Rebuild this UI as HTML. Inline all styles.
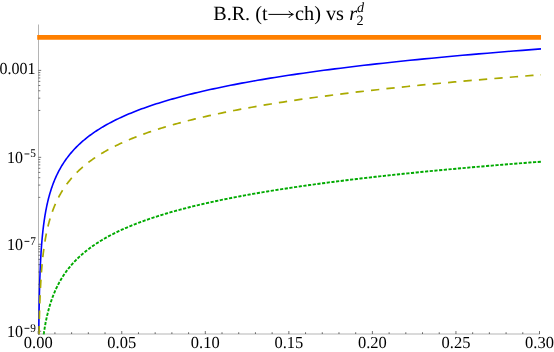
<!DOCTYPE html><html><head><meta charset="utf-8"><title>plot</title><style>html,body{margin:0;padding:0;background:#fff}svg{display:block;will-change:transform}text{font-family:"Liberation Serif",serif;fill:#000;text-rendering:geometricPrecision}</style></head><body>
<svg width="554" height="352" viewBox="0 0 554 352">
<rect width="554" height="352" fill="#fff"/>
<g stroke="#000" stroke-width="0.3" fill="none"><line x1="38.5" y1="24.5" x2="38.5" y2="334.15"/><line x1="38.35" y1="334.0" x2="539.9" y2="334.0"/></g>
<g stroke="#000" stroke-width="0.55" fill="none"><line x1="38.20" y1="334.0" x2="38.20" y2="331.00"/><line x1="54.91" y1="334.0" x2="54.91" y2="332.20"/><line x1="71.62" y1="334.0" x2="71.62" y2="332.20"/><line x1="88.33" y1="334.0" x2="88.33" y2="332.20"/><line x1="105.04" y1="334.0" x2="105.04" y2="332.20"/><line x1="121.75" y1="334.0" x2="121.75" y2="331.00"/><line x1="138.46" y1="334.0" x2="138.46" y2="332.20"/><line x1="155.17" y1="334.0" x2="155.17" y2="332.20"/><line x1="171.88" y1="334.0" x2="171.88" y2="332.20"/><line x1="188.59" y1="334.0" x2="188.59" y2="332.20"/><line x1="205.30" y1="334.0" x2="205.30" y2="331.00"/><line x1="222.01" y1="334.0" x2="222.01" y2="332.20"/><line x1="238.72" y1="334.0" x2="238.72" y2="332.20"/><line x1="255.43" y1="334.0" x2="255.43" y2="332.20"/><line x1="272.14" y1="334.0" x2="272.14" y2="332.20"/><line x1="288.85" y1="334.0" x2="288.85" y2="331.00"/><line x1="305.56" y1="334.0" x2="305.56" y2="332.20"/><line x1="322.27" y1="334.0" x2="322.27" y2="332.20"/><line x1="338.98" y1="334.0" x2="338.98" y2="332.20"/><line x1="355.69" y1="334.0" x2="355.69" y2="332.20"/><line x1="372.40" y1="334.0" x2="372.40" y2="331.00"/><line x1="389.11" y1="334.0" x2="389.11" y2="332.20"/><line x1="405.82" y1="334.0" x2="405.82" y2="332.20"/><line x1="422.53" y1="334.0" x2="422.53" y2="332.20"/><line x1="439.24" y1="334.0" x2="439.24" y2="332.20"/><line x1="455.95" y1="334.0" x2="455.95" y2="331.00"/><line x1="472.66" y1="334.0" x2="472.66" y2="332.20"/><line x1="489.37" y1="334.0" x2="489.37" y2="332.20"/><line x1="506.08" y1="334.0" x2="506.08" y2="332.20"/><line x1="522.79" y1="334.0" x2="522.79" y2="332.20"/><line x1="539.50" y1="334.0" x2="539.50" y2="331.00"/><line x1="38.5" y1="70.40" x2="41.2" y2="70.40"/><line x1="38.5" y1="110.43" x2="40.3" y2="110.43"/><line x1="38.5" y1="98.15" x2="40.3" y2="98.15"/><line x1="38.5" y1="90.77" x2="40.3" y2="90.77"/><line x1="38.5" y1="85.47" x2="40.3" y2="85.47"/><line x1="38.5" y1="81.35" x2="40.3" y2="81.35"/><line x1="38.5" y1="77.96" x2="40.3" y2="77.96"/><line x1="38.5" y1="75.09" x2="40.3" y2="75.09"/><line x1="38.5" y1="72.60" x2="40.3" y2="72.60"/><line x1="38.5" y1="157.34" x2="41.2" y2="157.34"/><line x1="38.5" y1="197.37" x2="40.3" y2="197.37"/><line x1="38.5" y1="185.09" x2="40.3" y2="185.09"/><line x1="38.5" y1="177.71" x2="40.3" y2="177.71"/><line x1="38.5" y1="172.41" x2="40.3" y2="172.41"/><line x1="38.5" y1="168.29" x2="40.3" y2="168.29"/><line x1="38.5" y1="164.90" x2="40.3" y2="164.90"/><line x1="38.5" y1="162.03" x2="40.3" y2="162.03"/><line x1="38.5" y1="159.54" x2="40.3" y2="159.54"/><line x1="38.5" y1="244.28" x2="41.2" y2="244.28"/><line x1="38.5" y1="284.31" x2="40.3" y2="284.31"/><line x1="38.5" y1="272.03" x2="40.3" y2="272.03"/><line x1="38.5" y1="264.65" x2="40.3" y2="264.65"/><line x1="38.5" y1="259.35" x2="40.3" y2="259.35"/><line x1="38.5" y1="255.23" x2="40.3" y2="255.23"/><line x1="38.5" y1="251.84" x2="40.3" y2="251.84"/><line x1="38.5" y1="248.97" x2="40.3" y2="248.97"/><line x1="38.5" y1="246.48" x2="40.3" y2="246.48"/><line x1="38.5" y1="331.22" x2="41.2" y2="331.22"/></g>
<path d="M38.76 334.40 L38.77 333.69 L38.78 332.97 L38.78 332.26 L38.79 331.54 L38.80 330.83 L38.81 330.12 L38.82 329.40 L38.82 328.69 L38.83 327.98 L38.84 327.26 L38.85 326.55 L38.86 325.83 L38.87 325.12 L38.87 324.41 L38.88 323.69 L38.89 322.98 L38.90 322.27 L38.91 321.55 L38.92 320.84 L38.93 320.12 L38.94 319.41 L38.95 318.70 L38.96 317.98 L38.97 317.27 L38.98 316.56 L38.99 315.84 L39.00 315.13 L39.01 314.42 L39.02 313.70 L39.03 312.99 L39.05 312.27 L39.06 311.56 L39.07 310.85 L39.08 310.13 L39.09 309.42 L39.11 308.70 L39.12 307.99 L39.13 307.28 L39.14 306.56 L39.16 305.85 L39.17 305.14 L39.18 304.42 L39.20 303.71 L39.21 303.00 L39.22 302.28 L39.24 301.57 L39.25 300.85 L39.27 300.14 L39.28 299.43 L39.30 298.71 L39.31 298.00 L39.33 297.28 L39.34 296.57 L39.36 295.86 L39.38 295.14 L39.39 294.43 L39.41 293.72 L39.43 293.00 L39.44 292.29 L39.46 291.57 L39.48 290.86 L39.50 290.15 L39.52 289.43 L39.53 288.72 L39.55 288.01 L39.57 287.29 L39.59 286.58 L39.61 285.87 L39.63 285.15 L39.65 284.44 L39.68 283.72 L39.70 283.01 L39.72 282.30 L39.74 281.58 L39.76 280.87 L39.79 280.15 L39.81 279.44 L39.83 278.73 L39.86 278.01 L39.88 277.30 L39.91 276.59 L39.93 275.87 L39.96 275.16 L39.99 274.44 L40.01 273.73 L40.04 273.02 L40.07 272.30 L40.10 271.59 L40.13 270.88 L40.15 270.16 L40.18 269.45 L40.21 268.74 L40.25 268.02 L40.28 267.31 L40.31 266.59 L40.34 265.88 L40.37 265.17 L40.41 264.45 L40.44 263.74 L40.48 263.03 L40.51 262.31 L40.55 261.60 L40.59 260.88 L40.62 260.17 L40.66 259.46 L40.70 258.74 L40.74 258.03 L40.78 257.31 L40.82 256.60 L40.86 255.89 L40.90 255.17 L40.95 254.46 L40.99 253.75 L41.04 253.03 L41.08 252.32 L41.13 251.61 L41.17 250.89 L41.22 250.18 L41.27 249.46 L41.32 248.75 L41.37 248.04 L41.42 247.32 L41.48 246.61 L41.53 245.89 L41.58 245.18 L41.64 244.47 L41.70 243.75 L41.75 243.04 L41.81 242.33 L41.87 241.61 L41.93 240.90 L41.99 240.19 L42.06 239.47 L42.12 238.76 L42.18 238.04 L42.25 237.33 L42.32 236.62 L42.39 235.90 L42.46 235.19 L42.53 234.48 L42.60 233.76 L42.68 233.05 L42.75 232.33 L42.83 231.62 L42.91 230.91 L42.99 230.19 L43.07 229.48 L43.15 228.77 L43.23 228.05 L43.32 227.34 L43.41 226.62 L43.50 225.91 L43.59 225.20 L43.68 224.48 L43.77 223.77 L43.87 223.06 L43.97 222.34 L44.07 221.63 L44.17 220.91 L44.27 220.20 L44.37 219.49 L44.48 218.77 L44.59 218.06 L44.70 217.34 L44.81 216.63 L44.93 215.92 L45.05 215.20 L45.17 214.49 L45.29 213.78 L45.41 213.06 L45.54 212.35 L45.67 211.64 L45.80 210.92 L45.93 210.21 L46.07 209.49 L46.21 208.78 L46.35 208.07 L46.49 207.35 L46.64 206.64 L46.79 205.93 L46.94 205.21 L47.09 204.50 L47.25 203.78 L47.41 203.07 L47.58 202.36 L47.74 201.64 L47.91 200.93 L48.09 200.22 L48.26 199.50 L48.44 198.79 L48.63 198.07 L48.81 197.36 L49.00 196.65 L49.20 195.93 L49.39 195.22 L49.59 194.51 L49.80 193.79 L50.01 193.08 L50.22 192.36 L50.44 191.65 L50.66 190.94 L50.88 190.22 L51.11 189.51 L51.35 188.80 L51.58 188.08 L51.83 187.37 L52.07 186.65 L52.32 185.94 L52.58 185.23 L52.84 184.51 L53.11 183.80 L53.38 183.09 L53.66 182.37 L53.94 181.66 L54.22 180.94 L54.52 180.23 L54.81 179.52 L55.12 178.80 L55.43 178.09 L55.74 177.38 L56.06 176.66 L56.39 175.95 L56.72 175.23 L57.06 174.52 L57.41 173.81 L57.76 173.09 L58.12 172.38 L58.49 171.67 L58.86 170.95 L59.24 170.24 L59.63 169.52 L60.02 168.81 L60.43 168.10 L60.84 167.38 L61.25 166.67 L61.68 165.96 L62.11 165.24 L62.55 164.53 L63.00 163.81 L63.46 163.10 L63.93 162.39 L64.41 161.67 L64.89 160.96 L65.39 160.25 L65.89 159.53 L66.40 158.82 L66.93 158.10 L67.46 157.39 L68.00 156.68 L68.56 155.96 L69.12 155.25 L69.70 154.53 L70.28 153.82 L70.88 153.11 L71.49 152.39 L72.11 151.68 L72.74 150.97 L73.38 150.25 L74.04 149.54 L74.71 148.82 L75.39 148.11 L76.08 147.40 L76.79 146.68 L77.51 145.97 L78.24 145.26 L78.99 144.54 L79.75 143.83 L80.53 143.11 L81.32 142.40 L82.13 141.69 L82.95 140.97 L83.79 140.26 L84.64 139.55 L85.51 138.83 L86.40 138.12 L87.30 137.41 L88.22 136.69 L89.16 135.98 L90.12 135.26 L91.09 134.55 L92.09 133.84 L93.10 133.12 L94.13 132.41 L95.18 131.70 L96.25 130.98 L97.34 130.27 L98.45 129.55 L99.59 128.84 L100.74 128.13 L101.92 127.41 L103.11 126.70 L104.34 125.99 L105.58 125.27 L106.85 124.56 L108.14 123.84 L109.46 123.13 L110.80 122.42 L112.17 121.70 L113.57 120.99 L114.99 120.28 L116.43 119.56 L117.91 118.85 L119.41 118.13 L120.94 117.42 L122.51 116.71 L124.10 115.99 L125.72 115.28 L127.37 114.56 L129.05 113.85 L130.77 113.14 L132.52 112.42 L134.30 111.71 L136.12 111.00 L137.97 110.28 L139.85 109.57 L141.77 108.85 L143.73 108.14 L145.73 107.43 L147.76 106.71 L149.83 106.00 L151.95 105.29 L154.10 104.57 L156.29 103.86 L158.53 103.14 L160.80 102.43 L163.12 101.72 L165.49 101.00 L167.90 100.29 L170.36 99.58 L172.86 98.86 L175.41 98.15 L178.01 97.44 L180.66 96.72 L183.36 96.01 L186.11 95.29 L188.91 94.58 L191.77 93.87 L194.68 93.15 L197.65 92.44 L200.67 91.73 L203.75 91.01 L206.89 90.30 L210.09 89.58 L213.35 88.87 L216.67 88.16 L220.06 87.44 L223.51 86.73 L227.03 86.01 L230.61 85.30 L234.26 84.59 L237.99 83.87 L241.78 83.16 L245.64 82.45 L249.58 81.73 L253.60 81.02 L257.69 80.31 L261.85 79.59 L266.10 78.88 L270.43 78.16 L274.84 77.45 L279.34 76.74 L283.92 76.02 L288.59 75.31 L293.34 74.59 L298.19 73.88 L303.13 73.17 L308.17 72.45 L313.30 71.74 L318.53 71.03 L323.86 70.31 L329.29 69.60 L334.82 68.88 L340.46 68.17 L346.21 67.46 L352.07 66.74 L358.03 66.03 L364.12 65.32 L370.32 64.60 L376.63 63.89 L383.07 63.18 L389.63 62.46 L396.31 61.75 L403.13 61.03 L410.07 60.32 L417.14 59.61 L424.35 58.89 L431.70 58.18 L439.19 57.47 L446.82 56.75 L454.60 56.04 L462.52 55.32 L470.60 54.61 L478.82 53.90 L487.21 53.18 L495.76 52.47 L504.47 51.75 L513.34 51.04 L522.39 50.33 L531.61 49.61 L541.00 48.90" stroke="#0000ff" stroke-width="1.6" fill="none" stroke-linejoin="round"/>
<path d="M39.02 334.40 L39.03 333.75 L39.04 333.10 L39.05 332.45 L39.06 331.80 L39.08 331.15 L39.09 330.51 L39.10 329.86 L39.11 329.21 L39.13 328.56 L39.14 327.91 L39.15 327.26 L39.17 326.61 L39.18 325.96 L39.19 325.31 L39.21 324.66 L39.22 324.02 L39.24 323.37 L39.25 322.72 L39.27 322.07 L39.28 321.42 L39.30 320.77 L39.31 320.12 L39.33 319.47 L39.34 318.82 L39.36 318.17 L39.37 317.53 L39.39 316.88 L39.41 316.23 L39.43 315.58 L39.44 314.93 L39.46 314.28 L39.48 313.63 L39.50 312.98 L39.51 312.33 L39.53 311.68 L39.55 311.04 L39.57 310.39 L39.59 309.74 L39.61 309.09 L39.63 308.44 L39.65 307.79 L39.67 307.14 L39.69 306.49 L39.71 305.84 L39.74 305.19 L39.76 304.55 L39.78 303.90 L39.80 303.25 L39.82 302.60 L39.85 301.95 L39.87 301.30 L39.90 300.65 L39.92 300.00 L39.95 299.35 L39.97 298.70 L40.00 298.06 L40.02 297.41 L40.05 296.76 L40.08 296.11 L40.10 295.46 L40.13 294.81 L40.16 294.16 L40.19 293.51 L40.22 292.86 L40.25 292.21 L40.28 291.57 L40.31 290.92 L40.34 290.27 L40.37 289.62 L40.40 288.97 L40.43 288.32 L40.47 287.67 L40.50 287.02 L40.53 286.37 L40.57 285.72 L40.60 285.08 L40.64 284.43 L40.67 283.78 L40.71 283.13 L40.75 282.48 L40.79 281.83 L40.83 281.18 L40.86 280.53 L40.90 279.88 L40.95 279.23 L40.99 278.59 L41.03 277.94 L41.07 277.29 L41.11 276.64 L41.16 275.99 L41.20 275.34 L41.25 274.69 L41.29 274.04 L41.34 273.39 L41.39 272.74 L41.44 272.10 L41.49 271.45 L41.54 270.80 L41.59 270.15 L41.64 269.50 L41.69 268.85 L41.75 268.20 L41.80 267.55 L41.85 266.90 L41.91 266.25 L41.97 265.61 L42.03 264.96 L42.09 264.31 L42.15 263.66 L42.21 263.01 L42.27 262.36 L42.33 261.71 L42.40 261.06 L42.46 260.41 L42.53 259.76 L42.59 259.12 L42.66 258.47 L42.73 257.82 L42.80 257.17 L42.87 256.52 L42.95 255.87 L43.02 255.22 L43.10 254.57 L43.17 253.92 L43.25 253.27 L43.33 252.63 L43.41 251.98 L43.50 251.33 L43.58 250.68 L43.66 250.03 L43.75 249.38 L43.84 248.73 L43.93 248.08 L44.02 247.43 L44.11 246.78 L44.20 246.14 L44.30 245.49 L44.40 244.84 L44.50 244.19 L44.60 243.54 L44.70 242.89 L44.80 242.24 L44.91 241.59 L45.02 240.94 L45.12 240.29 L45.24 239.65 L45.35 239.00 L45.46 238.35 L45.58 237.70 L45.70 237.05 L45.82 236.40 L45.94 235.75 L46.07 235.10 L46.19 234.45 L46.32 233.81 L46.46 233.16 L46.59 232.51 L46.72 231.86 L46.86 231.21 L47.00 230.56 L47.15 229.91 L47.29 229.26 L47.44 228.61 L47.59 227.96 L47.74 227.31 L47.90 226.67 L48.06 226.02 L48.22 225.37 L48.38 224.72 L48.55 224.07 L48.72 223.42 L48.89 222.77 L49.07 222.12 L49.24 221.47 L49.42 220.82 L49.61 220.18 L49.80 219.53 L49.99 218.88 L50.18 218.23 L50.38 217.58 L50.58 216.93 L50.78 216.28 L50.99 215.63 L51.20 214.98 L51.42 214.33 L51.64 213.69 L51.86 213.04 L52.08 212.39 L52.31 211.74 L52.55 211.09 L52.78 210.44 L53.03 209.79 L53.27 209.14 L53.52 208.49 L53.78 207.84 L54.04 207.20 L54.30 206.55 L54.57 205.90 L54.84 205.25 L55.12 204.60 L55.40 203.95 L55.69 203.30 L55.98 202.65 L56.27 202.00 L56.58 201.35 L56.88 200.71 L57.20 200.06 L57.51 199.41 L57.84 198.76 L58.16 198.11 L58.50 197.46 L58.84 196.81 L59.19 196.16 L59.54 195.51 L59.89 194.87 L60.26 194.22 L60.63 193.57 L61.01 192.92 L61.39 192.27 L61.78 191.62 L62.18 190.97 L62.58 190.32 L62.99 189.67 L63.41 189.02 L63.83 188.37 L64.26 187.73 L64.70 187.08 L65.15 186.43 L65.60 185.78 L66.07 185.13 L66.54 184.48 L67.02 183.83 L67.50 183.18 L68.00 182.53 L68.50 181.88 L69.01 181.24 L69.54 180.59 L70.07 179.94 L70.61 179.29 L71.15 178.64 L71.71 177.99 L72.28 177.34 L72.86 176.69 L73.45 176.04 L74.04 175.39 L74.65 174.75 L75.27 174.10 L75.90 173.45 L76.54 172.80 L77.19 172.15 L77.85 171.50 L78.53 170.85 L79.21 170.20 L79.91 169.55 L80.62 168.91 L81.34 168.26 L82.08 167.61 L82.82 166.96 L83.58 166.31 L84.35 165.66 L85.14 165.01 L85.94 164.36 L86.75 163.71 L87.58 163.06 L88.42 162.41 L89.28 161.77 L90.15 161.12 L91.04 160.47 L91.94 159.82 L92.86 159.17 L93.79 158.52 L94.74 157.87 L95.71 157.22 L96.69 156.57 L97.69 155.92 L98.70 155.28 L99.74 154.63 L100.79 153.98 L101.86 153.33 L102.95 152.68 L104.06 152.03 L105.18 151.38 L106.33 150.73 L107.50 150.08 L108.68 149.43 L109.89 148.79 L111.12 148.14 L112.37 147.49 L113.64 146.84 L114.93 146.19 L116.25 145.54 L117.58 144.89 L118.94 144.24 L120.33 143.59 L121.74 142.94 L123.17 142.30 L124.63 141.65 L126.11 141.00 L127.62 140.35 L129.15 139.70 L130.72 139.05 L132.30 138.40 L133.92 137.75 L135.56 137.10 L137.23 136.45 L138.94 135.81 L140.67 135.16 L142.43 134.51 L144.22 133.86 L146.04 133.21 L147.89 132.56 L149.78 131.91 L151.70 131.26 L153.65 130.61 L155.63 129.96 L157.65 129.32 L159.71 128.67 L161.80 128.02 L163.92 127.37 L166.09 126.72 L168.29 126.07 L170.53 125.42 L172.80 124.77 L175.12 124.12 L177.48 123.47 L179.88 122.83 L182.32 122.18 L184.80 121.53 L187.32 120.88 L189.89 120.23 L192.50 119.58 L195.16 118.93 L197.87 118.28 L200.62 117.63 L203.42 116.98 L206.26 116.34 L209.16 115.69 L212.11 115.04 L215.10 114.39 L218.15 113.74 L221.26 113.09 L224.41 112.44 L227.62 111.79 L230.89 111.14 L234.21 110.49 L237.59 109.85 L241.03 109.20 L244.53 108.55 L248.09 107.90 L251.71 107.25 L255.40 106.60 L259.14 105.95 L262.96 105.30 L266.83 104.65 L270.78 104.00 L274.79 103.36 L278.88 102.71 L283.03 102.06 L287.26 101.41 L291.56 100.76 L295.93 100.11 L300.38 99.46 L304.91 98.81 L309.52 98.16 L314.20 97.52 L318.97 96.87 L323.82 96.22 L328.75 95.57 L333.77 94.92 L338.87 94.27 L344.07 93.62 L349.35 92.97 L354.73 92.32 L360.20 91.67 L365.76 91.02 L371.42 90.38 L377.18 89.73 L383.04 89.08 L389.00 88.43 L395.06 87.78 L401.23 87.13 L407.50 86.48 L413.88 85.83 L420.38 85.18 L426.99 84.53 L433.71 83.89 L440.54 83.24 L447.50 82.59 L454.58 81.94 L461.78 81.29 L469.10 80.64 L476.55 79.99 L484.13 79.34 L491.84 78.69 L499.69 78.04 L507.67 77.40 L515.79 76.75 L524.05 76.10 L532.45 75.45 L541.00 74.80" stroke="#aaaa00" stroke-width="1.7" fill="none" stroke-dasharray="8.33 7.16"/>
<path d="M43.67 334.40 L43.74 333.97 L43.80 333.54 L43.86 333.10 L43.93 332.67 L43.99 332.24 L44.06 331.81 L44.12 331.38 L44.19 330.95 L44.26 330.51 L44.33 330.08 L44.40 329.65 L44.47 329.22 L44.54 328.79 L44.61 328.36 L44.68 327.92 L44.75 327.49 L44.83 327.06 L44.90 326.63 L44.98 326.20 L45.05 325.76 L45.13 325.33 L45.21 324.90 L45.29 324.47 L45.37 324.04 L45.45 323.61 L45.53 323.17 L45.61 322.74 L45.70 322.31 L45.78 321.88 L45.87 321.45 L45.95 321.02 L46.04 320.58 L46.13 320.15 L46.22 319.72 L46.31 319.29 L46.40 318.86 L46.49 318.43 L46.59 317.99 L46.68 317.56 L46.77 317.13 L46.87 316.70 L46.97 316.27 L47.07 315.83 L47.17 315.40 L47.27 314.97 L47.37 314.54 L47.47 314.11 L47.58 313.68 L47.68 313.24 L47.79 312.81 L47.90 312.38 L48.01 311.95 L48.12 311.52 L48.23 311.09 L48.34 310.65 L48.46 310.22 L48.57 309.79 L48.69 309.36 L48.81 308.93 L48.93 308.50 L49.05 308.06 L49.17 307.63 L49.29 307.20 L49.42 306.77 L49.54 306.34 L49.67 305.90 L49.80 305.47 L49.93 305.04 L50.06 304.61 L50.20 304.18 L50.33 303.75 L50.47 303.31 L50.60 302.88 L50.74 302.45 L50.89 302.02 L51.03 301.59 L51.17 301.16 L51.32 300.72 L51.47 300.29 L51.62 299.86 L51.77 299.43 L51.92 299.00 L52.07 298.56 L52.23 298.13 L52.39 297.70 L52.55 297.27 L52.71 296.84 L52.87 296.41 L53.04 295.97 L53.21 295.54 L53.37 295.11 L53.55 294.68 L53.72 294.25 L53.89 293.82 L54.07 293.38 L54.25 292.95 L54.43 292.52 L54.61 292.09 L54.80 291.66 L54.98 291.22 L55.17 290.79 L55.37 290.36 L55.56 289.93 L55.75 289.50 L55.95 289.07 L56.15 288.63 L56.36 288.20 L56.56 287.77 L56.77 287.34 L56.98 286.91 L57.19 286.48 L57.40 286.04 L57.62 285.61 L57.84 285.18 L58.06 284.75 L58.28 284.32 L58.51 283.89 L58.74 283.45 L58.97 283.02 L59.21 282.59 L59.44 282.16 L59.68 281.73 L59.93 281.29 L60.17 280.86 L60.42 280.43 L60.67 280.00 L60.92 279.57 L61.18 279.14 L61.44 278.70 L61.70 278.27 L61.97 277.84 L62.24 277.41 L62.51 276.98 L62.78 276.55 L63.06 276.11 L63.34 275.68 L63.63 275.25 L63.92 274.82 L64.21 274.39 L64.50 273.95 L64.80 273.52 L65.10 273.09 L65.40 272.66 L65.71 272.23 L66.02 271.80 L66.34 271.36 L66.66 270.93 L66.98 270.50 L67.30 270.07 L67.63 269.64 L67.97 269.21 L68.30 268.77 L68.64 268.34 L68.99 267.91 L69.34 267.48 L69.69 267.05 L70.05 266.62 L70.41 266.18 L70.77 265.75 L71.14 265.32 L71.51 264.89 L71.89 264.46 L72.27 264.02 L72.66 263.59 L73.05 263.16 L73.45 262.73 L73.85 262.30 L74.25 261.87 L74.66 261.43 L75.07 261.00 L75.49 260.57 L75.91 260.14 L76.34 259.71 L76.77 259.28 L77.21 258.84 L77.65 258.41 L78.10 257.98 L78.55 257.55 L79.01 257.12 L79.48 256.68 L79.94 256.25 L80.42 255.82 L80.90 255.39 L81.38 254.96 L81.87 254.53 L82.37 254.09 L82.87 253.66 L83.38 253.23 L83.89 252.80 L84.41 252.37 L84.94 251.94 L85.47 251.50 L86.00 251.07 L86.55 250.64 L87.10 250.21 L87.65 249.78 L88.21 249.35 L88.78 248.91 L89.36 248.48 L89.94 248.05 L90.53 247.62 L91.12 247.19 L91.73 246.75 L92.33 246.32 L92.95 245.89 L93.57 245.46 L94.20 245.03 L94.84 244.60 L95.48 244.16 L96.14 243.73 L96.80 243.30 L97.46 242.87 L98.14 242.44 L98.82 242.01 L99.51 241.57 L100.21 241.14 L100.91 240.71 L101.63 240.28 L102.35 239.85 L103.08 239.41 L103.82 238.98 L104.57 238.55 L105.32 238.12 L106.09 237.69 L106.86 237.26 L107.64 236.82 L108.43 236.39 L109.23 235.96 L110.04 235.53 L110.86 235.10 L111.69 234.67 L112.53 234.23 L113.37 233.80 L114.23 233.37 L115.10 232.94 L115.97 232.51 L116.86 232.08 L117.76 231.64 L118.66 231.21 L119.58 230.78 L120.51 230.35 L121.45 229.92 L122.40 229.48 L123.36 229.05 L124.33 228.62 L125.31 228.19 L126.31 227.76 L127.31 227.33 L128.33 226.89 L129.36 226.46 L130.40 226.03 L131.45 225.60 L132.51 225.17 L133.59 224.74 L134.68 224.30 L135.78 223.87 L136.89 223.44 L138.02 223.01 L139.16 222.58 L140.31 222.14 L141.48 221.71 L142.66 221.28 L143.85 220.85 L145.06 220.42 L146.28 219.99 L147.51 219.55 L148.76 219.12 L150.02 218.69 L151.30 218.26 L152.59 217.83 L153.90 217.40 L155.22 216.96 L156.56 216.53 L157.91 216.10 L159.28 215.67 L160.66 215.24 L162.06 214.81 L163.48 214.37 L164.91 213.94 L166.36 213.51 L167.82 213.08 L169.30 212.65 L170.80 212.21 L172.32 211.78 L173.85 211.35 L175.40 210.92 L176.97 210.49 L178.56 210.06 L180.16 209.62 L181.79 209.19 L183.43 208.76 L185.09 208.33 L186.77 207.90 L188.47 207.47 L190.19 207.03 L191.93 206.60 L193.68 206.17 L195.46 205.74 L197.26 205.31 L199.08 204.88 L200.92 204.44 L202.78 204.01 L204.67 203.58 L206.57 203.15 L208.50 202.72 L210.45 202.28 L212.42 201.85 L214.41 201.42 L216.43 200.99 L218.47 200.56 L220.53 200.13 L222.62 199.69 L224.73 199.26 L226.87 198.83 L229.03 198.40 L231.21 197.97 L233.42 197.54 L235.66 197.10 L237.92 196.67 L240.20 196.24 L242.52 195.81 L244.86 195.38 L247.22 194.94 L249.62 194.51 L252.04 194.08 L254.49 193.65 L256.96 193.22 L259.47 192.79 L262.00 192.35 L264.57 191.92 L267.16 191.49 L269.78 191.06 L272.43 190.63 L275.12 190.20 L277.83 189.76 L280.58 189.33 L283.35 188.90 L286.16 188.47 L289.00 188.04 L291.88 187.60 L294.78 187.17 L297.72 186.74 L300.70 186.31 L303.70 185.88 L306.75 185.45 L309.83 185.01 L312.94 184.58 L316.09 184.15 L319.27 183.72 L322.49 183.29 L325.75 182.86 L329.05 182.42 L332.38 181.99 L335.75 181.56 L339.16 181.13 L342.61 180.70 L346.10 180.27 L349.63 179.83 L353.20 179.40 L356.82 178.97 L360.47 178.54 L364.16 178.11 L367.90 177.67 L371.68 177.24 L375.50 176.81 L379.37 176.38 L383.28 175.95 L387.24 175.52 L391.24 175.08 L395.29 174.65 L399.39 174.22 L403.53 173.79 L407.72 173.36 L411.96 172.93 L416.24 172.49 L420.58 172.06 L424.97 171.63 L429.40 171.20 L433.89 170.77 L438.43 170.33 L443.02 169.90 L447.66 169.47 L452.36 169.04 L457.11 168.61 L461.92 168.18 L466.78 167.74 L471.69 167.31 L476.67 166.88 L481.70 166.45 L486.79 166.02 L491.93 165.59 L497.14 165.15 L502.41 164.72 L507.73 164.29 L513.12 163.86 L518.57 163.43 L524.08 163.00 L529.66 162.56 L535.30 162.13 L541.00 161.70" stroke="#00aa00" stroke-width="1.9" fill="none" stroke-dasharray="3.2 1.512"/>
<line x1="37.2" y1="37.3" x2="541" y2="37.3" stroke="#ff8000" stroke-width="4.8"/>
<g>
<text transform="translate(38.20 348.15) scale(1 1.02)" font-size="16.5" text-anchor="middle">0.00</text>
<text transform="translate(121.75 348.15) scale(1 1.02)" font-size="16.5" text-anchor="middle">0.05</text>
<text transform="translate(205.30 348.15) scale(1 1.02)" font-size="16.5" text-anchor="middle">0.10</text>
<text transform="translate(288.85 348.15) scale(1 1.02)" font-size="16.5" text-anchor="middle">0.15</text>
<text transform="translate(372.40 348.15) scale(1 1.02)" font-size="16.5" text-anchor="middle">0.20</text>
<text transform="translate(455.95 348.15) scale(1 1.02)" font-size="16.5" text-anchor="middle">0.25</text>
<text transform="translate(539.50 348.15) scale(1 1.02)" font-size="16.5" text-anchor="middle">0.30</text>
<text transform="translate(35.60 74.20) scale(1 1.05)" font-size="16.0" text-anchor="end">0.001</text>
<text transform="translate(7.00 162.54) scale(1 1.05)" font-size="16.0">10</text>
<line x1="24.5" y1="153.94" x2="29.4" y2="153.94" stroke="#000" stroke-width="0.9"/>
<text transform="translate(30.30 157.34) scale(1 1.05)" font-size="11.3">5</text>
<text transform="translate(7.00 249.98) scale(1 1.05)" font-size="16.0">10</text>
<line x1="24.5" y1="241.38" x2="29.4" y2="241.38" stroke="#000" stroke-width="0.9"/>
<text transform="translate(30.30 244.78) scale(1 1.05)" font-size="11.3">7</text>
<text transform="translate(7.00 336.92) scale(1 1.05)" font-size="16.0">10</text>
<line x1="24.5" y1="328.32" x2="29.4" y2="328.32" stroke="#000" stroke-width="0.9"/>
<text transform="translate(30.30 331.72) scale(1 1.05)" font-size="11.3">9</text>
<text transform="translate(213.20 19.80) scale(1 1.0)" font-size="20.15">B.R. (t</text>
<g stroke="#000" stroke-width="1" fill="none"><line x1="268.4" y1="14.4" x2="292.8" y2="14.4"/><path d="M288.8 10.9 Q290.3 13.6 293.4 14.4 Q290.3 15.2 288.8 17.9"/></g>
<text transform="translate(295.00 19.80) scale(1 1.0)" font-size="20.3">ch) vs </text>
<text transform="translate(349.30 19.80) scale(1 1.0)" font-size="20.3" font-style="italic">r</text>
<text transform="translate(356.50 25.20) scale(1 1.0)" font-size="14.2">2</text>
<text transform="translate(357.00 11.60) scale(1 1.0)" font-size="14.2" font-style="italic">d</text>
</g>
</svg></body></html>
